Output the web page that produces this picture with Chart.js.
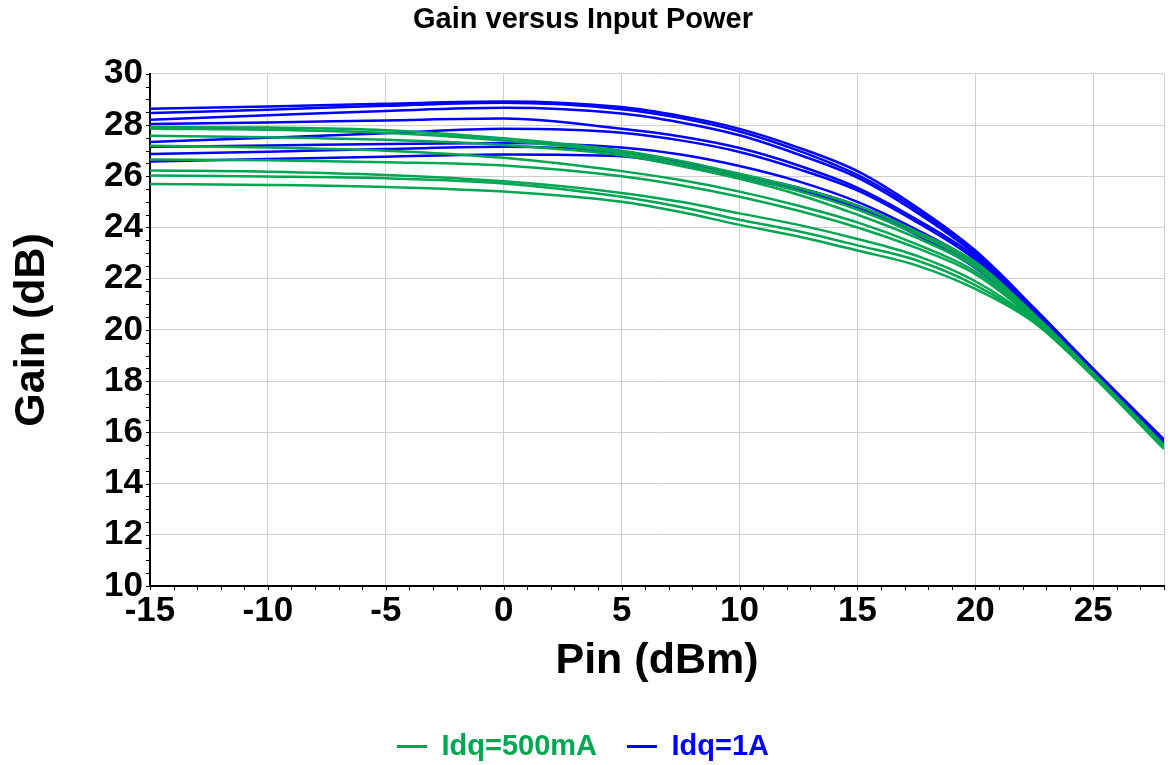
<!DOCTYPE html>
<html>
<head>
<meta charset="utf-8">
<script src="https://cdn.jsdelivr.net/npm/chart.js@4/dist/chart.umd.min.js"></script>
<style>
  html, body { margin: 0; padding: 0; background: #fff; }
  #wrap { width: 1168px; height: 765px; position: relative; }
</style>
</head>
<body>
<div id="wrap"><canvas id="gain"></canvas></div>
<script>
// Pin sample points (dBm) shared by all curves.
const pin = [-15, -10, -5, 0, 5, 7.5, 10, 12.5, 15, 17.5, 20, 22.5, 25, 28];

// Idq = 500mA curves (gain in dB), one per frequency.
const g500a = [27.92, 27.90, 27.80, 27.48, 27.00, 26.60, 26.10, 25.55, 24.85, 23.85, 22.65, 20.60, 18.32, 15.50];
const g500b = [27.85, 27.82, 27.70, 27.40, 26.92, 26.50, 26.00, 25.42, 24.70, 23.75, 22.55, 20.56, 18.30, 15.48];
const g500c = [27.58, 27.52, 27.42, 27.22, 26.82, 26.40, 25.90, 25.28, 24.50, 23.60, 22.45, 20.52, 18.28, 15.46];
const g500d = [27.19, 27.12, 27.00, 26.72, 26.20, 25.85, 25.40, 24.85, 24.20, 23.35, 22.28, 20.46, 18.26, 15.44];
const g500e = [26.65, 26.62, 26.55, 26.42, 26.00, 25.65, 25.20, 24.65, 24.00, 23.20, 22.18, 20.42, 18.24, 15.42];
const g500f = [26.22, 26.18, 26.05, 25.80, 25.35, 25.00, 24.55, 24.10, 23.55, 22.90, 21.90, 20.36, 18.22, 15.40];
const g500g = [26.03, 25.99, 25.92, 25.72, 25.20, 24.80, 24.30, 23.85, 23.30, 22.72, 21.75, 20.32, 18.20, 15.38];
const g500h = [25.70, 25.66, 25.58, 25.40, 25.00, 24.60, 24.10, 23.65, 23.10, 22.52, 21.60, 20.28, 18.18, 15.35];

// Idq = 1A curves.
const g1a = [28.64, 28.72, 28.83, 28.92, 28.70, 28.35, 27.85, 27.12, 26.20, 24.80, 23.10, 20.85, 18.48, 15.72];
const g1b = [28.47, 28.60, 28.75, 28.87, 28.62, 28.27, 27.75, 27.00, 26.05, 24.70, 23.02, 20.80, 18.46, 15.70];
const g1c = [28.21, 28.38, 28.55, 28.67, 28.45, 28.10, 27.60, 26.85, 25.95, 24.60, 22.95, 20.76, 18.44, 15.68];
const g1d = [28.04, 28.10, 28.18, 28.25, 27.85, 27.55, 27.10, 26.42, 25.55, 24.32, 22.85, 20.72, 18.42, 15.66];
const g1e = [27.34, 27.50, 27.68, 27.85, 27.70, 27.40, 26.95, 26.28, 25.45, 24.22, 22.75, 20.68, 18.40, 15.64];
const g1f = [27.15, 27.20, 27.26, 27.30, 27.12, 26.85, 26.40, 25.80, 25.00, 23.92, 22.62, 20.64, 18.38, 15.62];
const g1g = [26.87, 26.96, 27.06, 27.15, 26.92, 26.55, 26.05, 25.55, 24.85, 23.82, 22.52, 20.60, 18.36, 15.60];
const g1h = [26.58, 26.67, 26.76, 26.85, 26.78, 26.42, 25.95, 25.45, 24.75, 23.72, 22.42, 20.56, 18.34, 15.58];

const curves500 = [g500a, g500b, g500c, g500d, g500e, g500f, g500g, g500h];
const curves1A = [g1a, g1b, g1c, g1d, g1e, g1f, g1g, g1h];

const xTicks = [-15, -10, -5, 0, 5, 10, 15, 20, 25, 28];
const legendNames = ['Idq=500mA', 'Idq=1A'];

const green = '#00a651';
const blue = '#0000ff';
const fontFam = '"Liberation Sans", Arial, sans-serif';

// Build the datasets, alternating the two groups so neither sits fully on top.
let datasets = [];
for (let i = 0; i < curves500.length; i++) {
    datasets.push({
        label: legendNames[0],
        data: pin.map((x, j) => ({x: x, y: curves500[i][j]})),
        borderColor: green,
        borderWidth: 2.5
    });
    datasets.push({
        label: legendNames[1],
        data: pin.map((x, j) => ({x: x, y: curves1A[i][j]})),
        borderColor: blue,
        borderWidth: 2.5
    });
}

// Small tick marks along the axes (every 1 dBm / 0.5 dB).
const minorTicks = {
    id: 'minorTicks',
    afterDraw(chart) {
        const ctx = chart.ctx;
        const xs = chart.scales.x, ys = chart.scales.y;
        const area = chart.chartArea;
        ctx.save();
        ctx.strokeStyle = '#000';
        ctx.lineWidth = 1;
        ctx.beginPath();
        for (let v = -15; v <= 28; v++) {
            const px = Math.round(xs.getPixelForValue(v)) + 0.5;
            ctx.moveTo(px, area.bottom);
            ctx.lineTo(px, area.bottom + 4);
        }
        for (let v = 10; v <= 30; v += 0.5) {
            const py = Math.round(ys.getPixelForValue(v)) + 0.5;
            ctx.moveTo(area.left - 4, py);
            ctx.lineTo(area.left, py);
        }
        ctx.stroke();
        ctx.restore();
    }
};

// Nudge the legend a few pixels down to sit near the bottom edge.
const legendShift = {
    id: 'legendShift',
    afterLayout(chart) {
        if (chart.legend) {
            chart.legend.top += 6;
            chart.legend.bottom += 6;
        }
    }
};

new Chart(document.getElementById('gain'), {
    type: 'line',
    data: {datasets: datasets},
    plugins: [minorTicks, legendShift],
    options: {
        responsive: true,
        maintainAspectRatio: false,
        animation: false,
        layout: {padding: {top: 0, right: 2, bottom: 0, left: 0}},
        elements: {
            point: {radius: 0},
            line: {cubicInterpolationMode: 'monotone', fill: false}
        },
        plugins: {
            title: {
                display: true,
                text: 'Gain versus Input Power',
                color: '#000',
                font: {family: fontFam, size: 29, weight: 'bold'},
                padding: {top: 3, bottom: 36}
            },
            legend: {
                position: 'bottom',
                labels: {
                    boxWidth: 30,
                    boxHeight: 3,
                    padding: 30,
                    font: {family: fontFam, size: 29, weight: 'bold'},
                    generateLabels: () => [
                        {text: legendNames[0], fillStyle: green, strokeStyle: green, lineWidth: 0, fontColor: green, datasetIndex: 0},
                        {text: legendNames[1], fillStyle: blue, strokeStyle: blue, lineWidth: 0, fontColor: blue, datasetIndex: 1}
                    ]
                }
            },
            tooltip: {enabled: false}
        },
        scales: {
            x: {
                type: 'linear',
                min: -15,
                max: 28,
                afterBuildTicks: (s) => { s.ticks = xTicks.map(v => ({value: v})); },
                afterFit: (s) => { s.height = 110; },
                ticks: {
                    color: '#000',
                    padding: 4,
                    autoSkip: false,
                    maxRotation: 0,
                    font: {family: fontFam, size: 35, weight: 'bold'},
                    callback: (v) => v === 28 ? '' : v
                },
                grid: {color: '#cfcfcf', lineWidth: 1, drawTicks: false},
                border: {color: '#000', width: 2},
                title: {
                    display: true,
                    text: 'Pin (dBm)',
                    color: '#000',
                    font: {family: fontFam, size: 43, weight: 'bold'},
                    padding: {top: 0, bottom: 9}
                }
            },
            y: {
                min: 10,
                max: 30,
                afterFit: (s) => { s.width = 150; },
                ticks: {
                    stepSize: 2,
                    color: '#000',
                    padding: 7,
                    font: {family: fontFam, size: 35, weight: 'bold'}
                },
                grid: {color: '#cfcfcf', lineWidth: 1, drawTicks: false},
                border: {color: '#000', width: 2},
                title: {
                    display: true,
                    text: 'Gain (dB)',
                    color: '#000',
                    font: {family: fontFam, size: 43, weight: 'bold'},
                    padding: {top: 6, bottom: 0}
                }
            }
        }
    }
});
</script>
</body>
</html>
